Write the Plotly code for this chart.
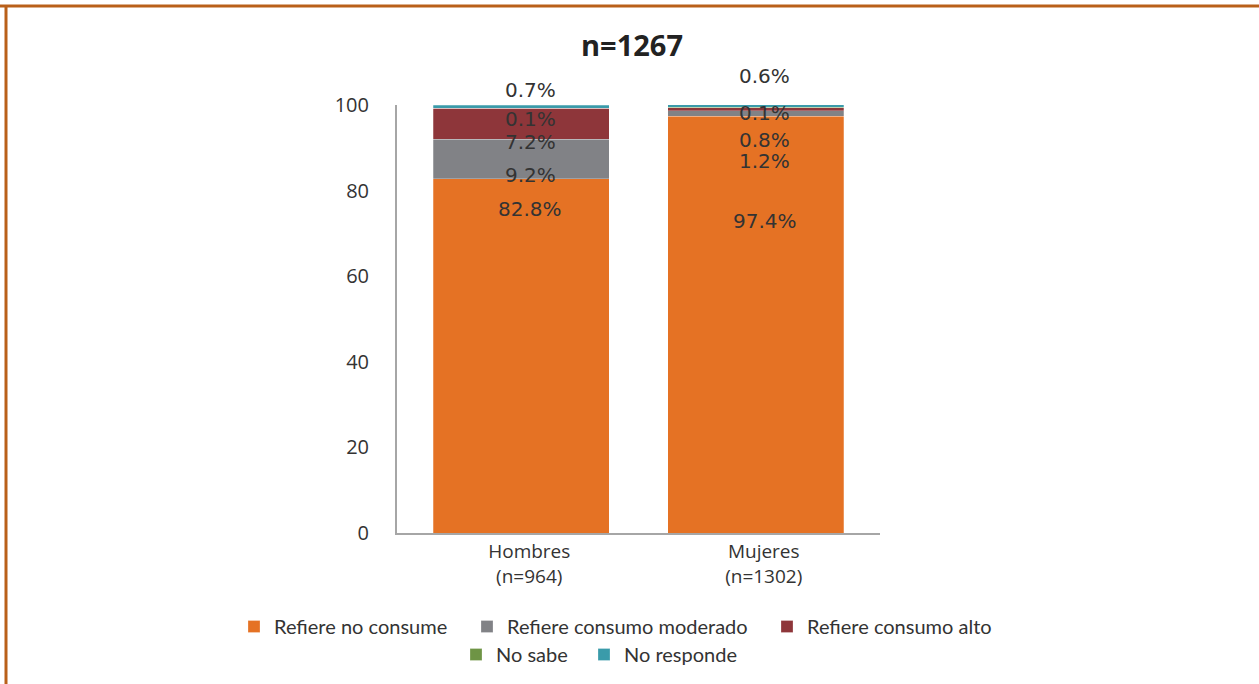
import plotly.graph_objects as go

WHITE = "#ffffff"
TEXT = "#333333"
BORDER = "#b9601a"

CATEGORIES = ["Hombres<br>(n=964)", "Mujeres<br>(n=1302)"]
SERIES = ["Refiere no consume", "Refiere consumo moderado", "Refiere consumo alto",
          "No sabe", "No responde"]
COLORS = ["#e57224", "#818286", "#8e363a", "#6e9445", "#3a9baa"]

NO_CONSUME = [82.8, 97.4]
MODERADO = [9.2, 1.2]
ALTO = [7.2, 0.8]
NO_SABE = [0.1, 0.1]
NO_RESPONDE = [0.7, 0.6]
VALUES = [NO_CONSUME, MODERADO, ALTO, NO_SABE, NO_RESPONDE]

# where the data labels sit (y in axis units, 0-100), per category, same order as SERIES
LABEL_Y = [
    [75.7, 83.6, 91.4, 96.7, 103.5],
    [72.9, 86.9, 91.8, 98.1, 106.8],
]

W, H = 1259, 684
L, R, T, B = 397, 379, 105, 151

# legend entry placement in pixels: (text left, top of row)
LEGEND_POS = [(274, 607), (507, 607), (807, 607), (496, 635), (624, 635)]

fig = go.Figure()

for i, (name, vals, col) in enumerate(zip(SERIES, VALUES, COLORS)):
    fig.add_trace(go.Bar(
        x=CATEGORIES, y=vals, name=name, showlegend=True,
        marker=dict(color=col, line=dict(color="rgba(255,255,255,0.5)", width=0.5)),
        width=0.75, hoverinfo="skip",
        legend=f"legend{i + 2}",
    ))

annotations = []
for ci, cat in enumerate(CATEGORIES):
    for si, vals in enumerate(VALUES):
        annotations.append(dict(
            x=cat, y=LABEL_Y[ci][si] / 100, xref="x", yref="paper",
            xanchor="center", yanchor="middle", xshift=9,
            text=f"{vals[ci]:.1f}%", showarrow=False,
            font=dict(family="DejaVu Sans", size=20, color=TEXT),
        ))

pw, ph = W - L - R, H - T - B
legend_font = dict(family="Lato", size=20, color=TEXT)
legends = {}
for i, (tx, ty) in enumerate(LEGEND_POS):
    legends[f"legend{i + 2}"] = dict(
        orientation="h", x=(tx - 40) / W, xanchor="left", xref="container",
        y=1 - ty / H, yref="container", yanchor="top",
        font=legend_font, itemwidth=30,
    )

fig.update_layout(
    width=W, height=H,
    margin=dict(l=L, r=R, t=T, b=B),
    plot_bgcolor=WHITE, paper_bgcolor=WHITE,
    barmode="stack", showlegend=True,
    title=dict(text="<b>n=1267</b>", x=632 / W, xref="container", xanchor="center",
               y=1 - 46 / H, yanchor="middle",
               font=dict(family="Open Sans", size=29, color="#222222")),
    font=dict(family="Open Sans", size=19, color=TEXT),
    xaxis=dict(range=[-0.53, 1.53], showgrid=False, zeroline=False, showline=True,
               linecolor="#a6a6a6", linewidth=2, ticks="", ticklabelshift=8,
               tickfont=dict(family="Open Sans", size=19, color=TEXT)),
    yaxis=dict(range=[0, 100], tickvals=[0, 20, 40, 60, 80, 100], showgrid=False,
               zeroline=False, showline=True, linecolor="#a6a6a6", linewidth=2,
               ticks="", ticklabelstandoff=22,
               tickfont=dict(family="Open Sans", size=20, color=TEXT)),
    annotations=annotations,
    shapes=[
        dict(type="line", xref="paper", yref="paper",
             x0=(0 - L) / pw, x1=(W - L) / pw, y0=(H - B - 6) / ph, y1=(H - B - 6) / ph,
             line=dict(color=BORDER, width=3)),
        dict(type="line", xref="paper", yref="paper",
             x0=(6 - L) / pw, x1=(6 - L) / pw, y0=(H - B - 5) / ph, y1=(H - B - H) / ph,
             line=dict(color=BORDER, width=3)),
    ],
    **legends,
)

fig.write_html("out.html", config={"displayModeBar": False},
               post_script="document.body.style.margin='0';")
